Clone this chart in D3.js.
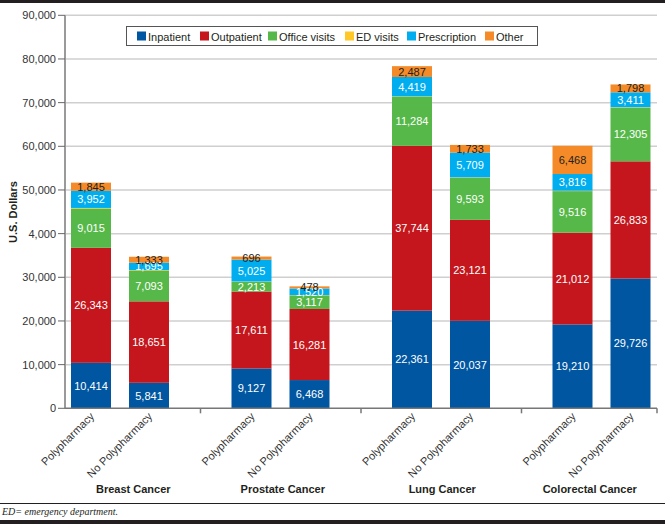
<!DOCTYPE html>
<html>
<head>
<meta charset="utf-8">
<script src="https://cdn.jsdelivr.net/npm/d3@7"></script>
<style>
  body { margin: 0; background: #fff; }
  svg { display: block; font-family: "Liberation Sans", Arial, sans-serif; }
</style>
</head>
<body>
<div id="chart"></div>
<script>
// groups and bars
const cancers = ['Breast Cancer', 'Prostate Cancer', 'Lung Cancer', 'Colorectal Cancer']
const groups = ['Polypharmacy', 'No Polypharmacy']
const categories = ['Inpatient', 'Outpatient', 'Office visits', 'ED visits', 'Prescription', 'Other']
const colors = ['#0056a1', '#c4161c', '#56b848', '#ffc828', '#00aeef', '#f58a28']

// values per bar, order: breast P, breast NP, prostate P, prostate NP, lung P, lung NP, colorectal P, colorectal NP
const inpatient = [10414, 5841, 9127, 6468, 22361, 20037, 19210, 29726]
const outpatient = [26343, 18651, 17611, 16281, 37744, 23121, 21012, 26833]
const officeVisits = [9015, 7093, 2213, 3117, 11284, 9593, 9516, 12305]
const edVisits = [110, 90, 80, 60, 60, 120, 100, 90]
const prescription = [3952, 1695, 5025, 1520, 4419, 5709, 3816, 3411]
const other = [1845, 1333, 696, 478, 2487, 1733, 6468, 1798]

const yTicks = [0, 10000, 20000, 30000, 40000, 50000, 60000, 70000, 80000, 90000]
const yTickLabels = ['0', '10,000', '20,000', '30,000', '4,000', '50,000', '60,000', '70,000', '80,000', '90,000']

const W = 665, H = 524

var rows = []
cancers.forEach(function (c, i) {
    groups.forEach(function (g, j) {
        var k = i * 2 + j
        rows.push({
            cancer: c, group: g,
            'Inpatient': inpatient[k], 'Outpatient': outpatient[k],
            'Office visits': officeVisits[k], 'ED visits': edVisits[k],
            'Prescription': prescription[k], 'Other': other[k]
        })
    })
})

var svg = d3.select('#chart').append('svg')
    .attr('width', W).attr('height', H)

// frame bits
svg.append('rect').attr('x', 0).attr('y', 0).attr('width', W).attr('height', 3).attr('fill', '#231f20')
svg.append('rect').attr('x', 0).attr('y', 520).attr('width', W).attr('height', 4).attr('fill', '#231f20')
svg.append('line').attr('x1', 0).attr('x2', W).attr('y1', 503.5).attr('y2', 503.5)
    .attr('stroke', '#231f20').attr('stroke-width', 1)
svg.append('text').attr('x', 2).attr('y', 515)
    .style('font-family', '"Liberation Serif", serif').style('font-style', 'italic')
    .style('font-size', '10px').attr('fill', '#231f20')
    .text('ED= emergency department.')

var y = d3.scaleLinear().domain([0, 90000]).range([408.3, 15.3])
var x0 = d3.scaleBand().domain(cancers).range([40, 682])
var x1 = d3.scaleBand().domain(groups).range([31, 129]).paddingInner(0.3103)
var axisLeft = 65, axisRight = 657

// gridlines
svg.append('g').selectAll('line')
    .data(yTicks.slice(1))
    .enter()
    .append('line')
    .attr('x1', axisLeft).attr('x2', axisRight)
    .attr('y1', (d) => y(d)).attr('y2', (d) => y(d))
    .attr('stroke', '#cfcfcf').attr('stroke-width', 1.5)

// stacked bars
var stack = d3.stack().keys(categories)(rows)
var layer = svg.append('g').selectAll('g')
    .data(stack)
    .enter()
    .append('g')
    .attr('fill', (d, i) => colors[i])

layer.selectAll('rect')
    .data((d) => d)
    .enter()
    .append('rect')
    .attr('x', (d) => x0(d.data.cancer) + x1(d.data.group))
    .attr('width', x1.bandwidth())
    .attr('y', (d) => y(d[1]))
    .attr('height', (d) => y(d[0]) - y(d[1]))

// value labels
stack.forEach(function (s, i) {
    if (s.key === 'ED visits') return
    svg.append('g').selectAll('text')
        .data(s)
        .enter()
        .append('text')
        .attr('x', (d) => x0(d.data.cancer) + x1(d.data.group) + x1.bandwidth() / 2)
        .attr('y', (d) => (y(d[0]) + y(d[1])) / 2 + 4)
        .attr('text-anchor', 'middle')
        .style('font-size', '11px')
        .attr('fill', s.key === 'Other' ? '#231f20' : '#fff')
        .text((d) => d3.format(',')(d[1] - d[0]))
})

// y axis
var ya = svg.append('g')
ya.append('line').attr('x1', axisLeft).attr('x2', axisLeft).attr('y1', y(90000)).attr('y2', y(0))
    .attr('stroke', '#9a9a9a').attr('stroke-width', 2)
ya.selectAll('.tk').data(yTicks).enter().append('line')
    .attr('x1', axisLeft - 7).attr('x2', axisLeft)
    .attr('y1', (d) => y(d)).attr('y2', (d) => y(d))
    .attr('stroke', '#666').attr('stroke-width', 1)
ya.selectAll('text').data(yTicks).enter().append('text')
    .attr('x', axisLeft - 9).attr('y', (d) => y(d) + 4)
    .attr('text-anchor', 'end')
    .style('font-size', '11px').attr('fill', '#333')
    .text((d, i) => yTickLabels[i])

svg.append('text')
    .attr('transform', 'translate(17,212) rotate(-90)')
    .attr('text-anchor', 'middle')
    .style('font-size', '11px').style('font-weight', 'bold').attr('fill', '#231f20')
    .text('U.S. Dollars')

// x axis
var xa = svg.append('g')
xa.append('line').attr('x1', axisLeft).attr('x2', axisRight).attr('y1', y(0)).attr('y2', y(0))
    .attr('stroke', '#777').attr('stroke-width', 1.5)
var seps = cancers.slice(1).map((c) => x0(c)).concat([axisRight])
xa.selectAll('.sep').data(seps).enter().append('line')
    .attr('x1', (d) => d).attr('x2', (d) => d)
    .attr('y1', y(0)).attr('y2', y(0) + 5)
    .attr('stroke', '#777').attr('stroke-width', 1.5)

// rotated bar labels
rows.forEach(function (r) {
    var cx = x0(r.cancer) + x1(r.group) + x1.bandwidth() / 2 + 4
    xa.append('text')
        .attr('transform', 'translate(' + cx + ',' + 417 + ') rotate(-45)')
        .attr('text-anchor', 'end')
        .style('font-size', '11px').attr('fill', '#333')
        .text(r.group)
})

// group names
const labelShift = [13, 2, 1, -12]
cancers.forEach(function (c, i) {
    xa.append('text')
        .attr('x', x0(c) + x0.bandwidth() / 2 + labelShift[i])
        .attr('y', 493)
        .attr('text-anchor', 'middle')
        .style('font-size', '11px').style('font-weight', 'bold').attr('fill', '#231f20')
        .text(c)
})

// legend
var lg = svg.append('g')
lg.append('rect').attr('x', 126.5).attr('y', 26.5).attr('width', 411).attr('height', 19)
    .attr('fill', '#fff').attr('stroke', '#555')
const legendX = [137, 200, 268, 345, 407, 485]
categories.forEach(function (c, i) {
    lg.append('rect').attr('x', legendX[i]).attr('y', 31.5).attr('width', 9).attr('height', 9)
        .attr('fill', colors[i])
    lg.append('text').attr('x', legendX[i] + 11).attr('y', 40.5)
        .style('font-size', '11px').attr('fill', '#231f20')
        .text(c)
})
</script>
</body>
</html>
